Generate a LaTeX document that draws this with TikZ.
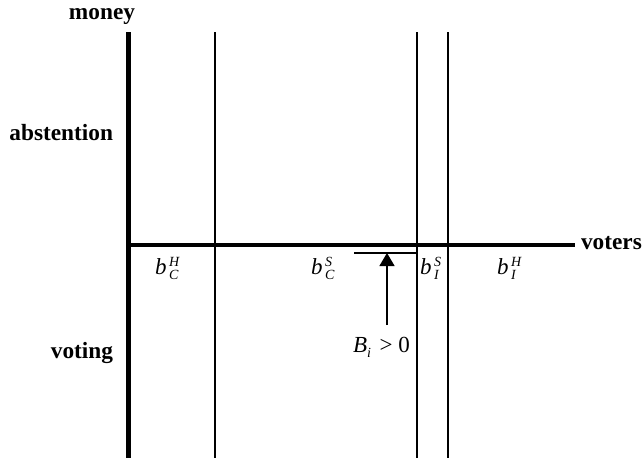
\documentclass[tikz,border=0pt]{standalone}
\usepackage{fontspec}
\setmainfont{Liberation Serif}
\usetikzlibrary{arrows.meta}
\newcommand{\scr}{\fontsize{14}{14}\selectfont\itshape}
\newcommand{\blab}[2]{\textit{b}\hspace{2.5pt}\rlap{\raisebox{8pt}{\scr #2}}\raisebox{-5.5pt}{\scr #1}}
\begin{document}
\begin{tikzpicture}[x=1pt,y=-1pt,
  every node/.style={inner sep=0pt,outer sep=0pt,font=\fontsize{23}{27}\selectfont},
  axis/.style={line width=4.5pt},
  thin line/.style={line width=1.4pt},
  word/.style={font=\fontsize{23.3}{27}\selectfont\bfseries},
  lab/.style={anchor=base west}]
\useasboundingbox (0,0) rectangle (642,461);
% coordinates
\coordinate (vtop) at (128.5,32);
\coordinate (vbot) at (128.5,458);
\coordinate (hleft) at (128.5,245);
\coordinate (hright) at (575,245);
\coordinate (l1t) at (215,32); \coordinate (l1b) at (215,458);
\coordinate (l2t) at (417,32); \coordinate (l2b) at (417,458);
\coordinate (l3t) at (448,32); \coordinate (l3b) at (448,458);
\coordinate (sl) at (354,253); \coordinate (sr) at (417,253);
\coordinate (tip) at (387,253);
% axes
\draw[axis] (vtop) -- (vbot);
\draw[axis] (hleft) -- (hright);
\draw[thin line] (l1t) -- (l1b);
\draw[thin line] (l2t) -- (l2b);
\draw[thin line] (l3t) -- (l3b);
\draw[thin line] (sl) -- (sr);
% texts
\node[word,anchor=base] (money) at (102,19) {money};
\node[word,anchor=base east] (abst) at (113,140) {abstention};
\node[word,anchor=base east] (voting) at (113,358) {voting};
\node[word,anchor=west] (voters) at (581,243) {voters};
\node[lab] (bCH) at (155,274) {\blab{C}{H}};
\node[lab] (bCS) at (311,274) {\blab{C}{S}};
\node[lab] (bIS) at (420,274) {\blab{I}{S}};
\node[lab] (bIH) at (497,274) {\blab{I}{H}};
\node[anchor=base west] (B) at (353,352) {\textit{B}\raisebox{-5pt}{\scr i}\hspace{3pt} > 0};
\draw[thin line,-{Triangle[length=13pt,width=15pt]}] (387,325) -- (tip);
\end{tikzpicture}
\end{document}
